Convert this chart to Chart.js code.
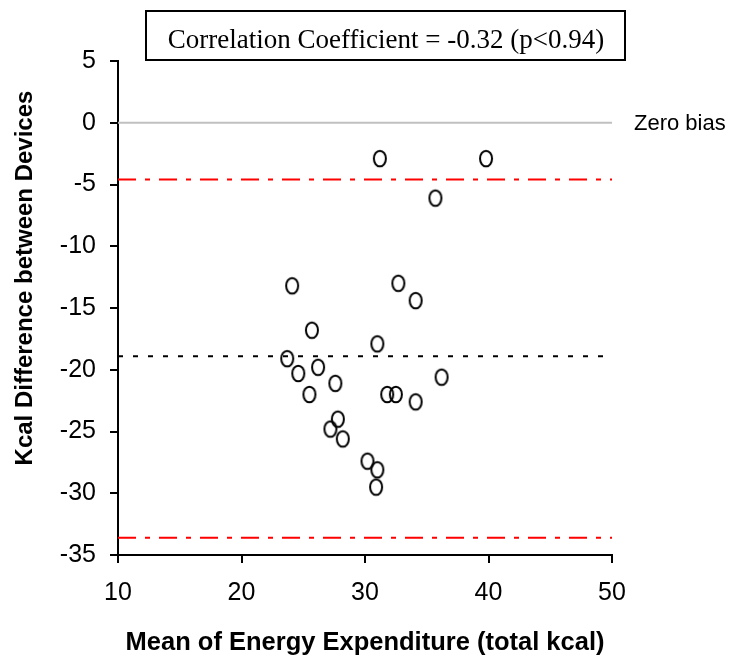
<!DOCTYPE html>
<html>
<head>
<meta charset="utf-8">
<script src="https://cdn.jsdelivr.net/npm/chart.js@4/dist/chart.umd.min.js"></script>
<style>
  body { margin: 0; background: #fff; }
  canvas { display: block; }
</style>
</head>
<body>
<canvas id="blandAltman" width="730" height="659"></canvas>
<script>
// Mean of the two devices (x) and their difference (y)
const meanKcal = [
  31.2, 39.8, 35.7, 24.1, 32.7, 34.1, 25.7, 31.0, 23.7, 24.6, 26.2, 27.6,
  36.2, 25.5, 31.8, 32.5, 34.1, 27.8, 27.2, 28.2, 30.2, 31.0, 30.9
];
const diffKcal = [
  -2.9, -2.9, -6.1, -13.2, -13.0, -14.4, -16.8, -17.9, -19.1, -20.3, -19.8, -21.1,
  -20.6, -22.0, -22.0, -22.0, -22.6, -24.0, -24.8, -25.6, -27.4, -28.1, -29.5
];

// Reference lines: zero bias, mean bias and limits of agreement
const lineRange = [10, 50];
const zeroBias = 0;
const meanBias = -18.9;
const limitsOfAgreement = [-4.6, -33.6];

const xTicks = [10, 20, 30, 40, 50];
const yTicks = [5, 0, -5, -10, -15, -20, -25, -30, -35];

const correlationText = "Correlation Coefficient = -0.32 (p<0.94)";

const sansFont = "'Liberation Sans', Arial, sans-serif";
const serifFont = "'Liberation Serif', 'Times New Roman', serif";

// open ellipse used as point marker
function makeEllipse() {
  const c = document.createElement("canvas");
  c.width = 18;
  c.height = 21;
  const g = c.getContext("2d");
  g.strokeStyle = "#000";
  g.lineWidth = 2;
  g.beginPath();
  g.ellipse(9, 10.5, 6, 7.8, 0, 0, Math.PI * 2);
  g.stroke();
  return c;
}

function flatLine(y) {
  return lineRange.map((x) => ({ x: x, y: y }));
}

const points = meanKcal.map((x, i) => ({ x: x, y: diffKcal[i] }));

// extra text: correlation box, zero bias label, y title
const annotations = {
  id: "annotations",
  afterDraw(chart) {
    const ctx = chart.ctx;
    const yScale = chart.scales.y;
    const area = chart.chartArea;
    ctx.save();

    // correlation box
    ctx.strokeStyle = "#000";
    ctx.lineWidth = 2;
    ctx.strokeRect(146, 11, 479, 49);
    ctx.fillStyle = "#000";
    ctx.font = "27px " + serifFont;
    ctx.textAlign = "center";
    ctx.textBaseline = "alphabetic";
    ctx.fillText(correlationText, 386, 48);

    // zero bias label
    ctx.font = "22px " + sansFont;
    ctx.textAlign = "left";
    ctx.textBaseline = "middle";
    ctx.fillText("Zero bias", area.right + 22, yScale.getPixelForValue(zeroBias) + 1);

    // y axis title
    ctx.translate(25, 278);
    ctx.rotate(-Math.PI / 2);
    ctx.font = "bold 24px " + sansFont;
    ctx.textAlign = "center";
    ctx.fillText("Kcal Difference between Devices", 0, 0);
    ctx.restore();
  },
};

const ctx = document.getElementById("blandAltman").getContext("2d");
new Chart(ctx, {
  type: "scatter",
  data: {
    datasets: [
      {
        label: "Devices",
        data: points,
        pointStyle: makeEllipse(),
        pointRadius: 8,
      },
      {
        type: "line",
        label: "Upper limit",
        data: flatLine(limitsOfAgreement[0]),
        borderColor: "#FF0000",
        borderWidth: 2,
        borderDash: [18, 9, 5, 9],
        pointRadius: 0,
      },
      {
        type: "line",
        label: "Mean bias",
        data: flatLine(meanBias),
        borderColor: "#000",
        borderWidth: 2,
        borderDash: [5, 10],
        pointRadius: 0,
      },
      {
        type: "line",
        label: "Lower limit",
        data: flatLine(limitsOfAgreement[1]),
        borderColor: "#FF0000",
        borderWidth: 2,
        borderDash: [18, 9, 5, 9],
        pointRadius: 0,
      },
      {
        type: "line",
        label: "Zero bias",
        data: flatLine(zeroBias),
        borderColor: "#C0C0C0",
        borderWidth: 2,
        pointRadius: 0,
      },
    ],
  },
  options: {
    responsive: false,
    animation: false,
    layout: {
      padding: { top: 61, right: 118, left: 0, bottom: 0 },
    },
    plugins: {
      legend: { display: false },
      tooltip: { enabled: false },
    },
    scales: {
      x: {
        type: "linear",
        min: xTicks[0],
        max: xTicks[xTicks.length - 1],
        afterBuildTicks: (scale) => {
          scale.ticks = xTicks.map((v) => ({ value: v }));
        },
        afterFit: (scale) => {
          scale.height = 104;
        },
        border: { display: true, color: "#000", width: 2 },
        grid: {
          drawOnChartArea: false,
          drawTicks: true,
          tickLength: 8,
          color: "#000",
          lineWidth: 2,
        },
        ticks: {
          color: "#000",
          padding: 15,
          maxRotation: 0,
          font: { family: sansFont, size: 25 },
        },
        title: {
          display: true,
          text: "Mean of Energy Expenditure (total kcal)",
          color: "#000",
          padding: { top: 0, bottom: 1 },
          font: { family: sansFont, size: 25.5, weight: "bold" },
        },
      },
      y: {
        type: "linear",
        min: yTicks[yTicks.length - 1],
        max: yTicks[0],
        afterBuildTicks: (scale) => {
          scale.ticks = yTicks.slice().reverse().map((v) => ({ value: v }));
        },
        afterFit: (scale) => {
          scale.width = 118;
        },
        border: { display: true, color: "#000", width: 2 },
        grid: {
          drawOnChartArea: false,
          drawTicks: true,
          tickLength: 8,
          color: "#000",
          lineWidth: 2,
        },
        ticks: {
          color: "#000",
          padding: 14,
          font: { family: sansFont, size: 25 },
        },
      },
    },
  },
  plugins: [annotations],
});
</script>
</body>
</html>
